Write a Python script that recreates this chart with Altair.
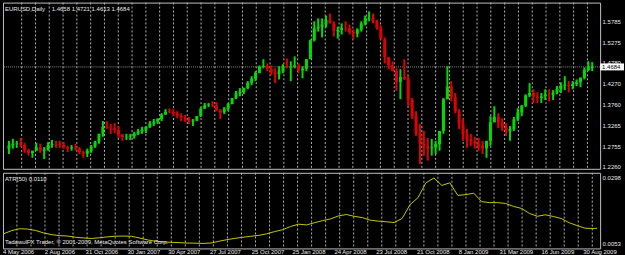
import altair as alt
import pandas as pd

# ---------------- text ----------------
symbol_text = "EURUSD,Daily"
ohlc_text = "1.4658 1.4721 1.4613 1.4684"
atr_title = "ATR(50) 0.0110"
copyright_text = "TadawulFX Trader, © 2001-2009, MetaQuotes Software Corp."

# ---------------- price data (one candle per ~6 trading days) ----------------
opens = [1.270, 1.278, 1.282, 1.283, 1.279, 1.266, 1.259, 1.265, 1.273, 1.265,
         1.268, 1.279, 1.281, 1.280, 1.279, 1.274, 1.271, 1.273, 1.270, 1.261,
         1.258, 1.265, 1.275, 1.287, 1.306, 1.323, 1.321, 1.319, 1.315, 1.304,
         1.298, 1.299, 1.300, 1.306, 1.312, 1.315, 1.323, 1.331, 1.335, 1.342,
         1.353, 1.360, 1.359, 1.355, 1.350, 1.345, 1.341, 1.336, 1.338, 1.349,
         1.367, 1.375, 1.377, 1.375, 1.363, 1.358, 1.367, 1.378, 1.393, 1.404,
         1.408, 1.417, 1.430, 1.440, 1.454, 1.469, 1.471, 1.464, 1.454, 1.451,
         1.459, 1.470, 1.467, 1.469, 1.472, 1.460, 1.464, 1.487, 1.533, 1.562,
         1.566, 1.571, 1.582, 1.574, 1.556, 1.558, 1.563, 1.562, 1.553, 1.549,
         1.559, 1.574, 1.586, 1.588, 1.579, 1.562, 1.535, 1.492, 1.472, 1.458,
         1.432, 1.444, 1.438, 1.388, 1.349, 1.306, 1.282, 1.276, 1.271, 1.273,
         1.281, 1.313, 1.390, 1.420, 1.395, 1.361, 1.329, 1.305, 1.293, 1.288,
         1.282, 1.277, 1.271, 1.289, 1.334, 1.347, 1.334, 1.323, 1.312, 1.318,
         1.341, 1.358, 1.374, 1.399, 1.405, 1.396, 1.393, 1.397, 1.401, 1.400,
         1.406, 1.415, 1.423, 1.425, 1.422, 1.427, 1.431, 1.442, 1.461, 1.4658]
highs = [1.289, 1.294, 1.289, 1.296, 1.284, 1.270, 1.265, 1.284, 1.282, 1.274,
         1.286, 1.291, 1.289, 1.289, 1.286, 1.277, 1.279, 1.282, 1.274, 1.265,
         1.270, 1.279, 1.289, 1.306, 1.337, 1.337, 1.330, 1.332, 1.325, 1.306,
         1.306, 1.306, 1.311, 1.318, 1.323, 1.325, 1.337, 1.342, 1.344, 1.356,
         1.366, 1.368, 1.366, 1.361, 1.356, 1.352, 1.347, 1.342, 1.349, 1.371,
         1.381, 1.381, 1.385, 1.383, 1.366, 1.371, 1.381, 1.393, 1.410, 1.417,
         1.418, 1.434, 1.446, 1.458, 1.472, 1.487, 1.477, 1.472, 1.465, 1.470,
         1.475, 1.489, 1.482, 1.494, 1.477, 1.470, 1.487, 1.535, 1.579, 1.586,
         1.586, 1.593, 1.598, 1.579, 1.566, 1.574, 1.579, 1.571, 1.559, 1.562,
         1.579, 1.593, 1.603, 1.598, 1.583, 1.569, 1.540, 1.492, 1.482, 1.465,
         1.463, 1.487, 1.446, 1.393, 1.361, 1.330, 1.313, 1.296, 1.294, 1.289,
         1.313, 1.393, 1.470, 1.434, 1.405, 1.366, 1.342, 1.318, 1.306, 1.299,
         1.296, 1.289, 1.289, 1.349, 1.373, 1.356, 1.344, 1.332, 1.325, 1.347,
         1.368, 1.376, 1.402, 1.429, 1.414, 1.407, 1.405, 1.414, 1.414, 1.412,
         1.422, 1.431, 1.446, 1.434, 1.434, 1.438, 1.443, 1.467, 1.482, 1.480]
lows = [1.257, 1.270, 1.272, 1.274, 1.260, 1.253, 1.248, 1.265, 1.260, 1.245,
        1.265, 1.272, 1.272, 1.272, 1.270, 1.262, 1.265, 1.265, 1.257, 1.248,
        1.250, 1.260, 1.272, 1.282, 1.299, 1.318, 1.306, 1.308, 1.296, 1.289,
        1.291, 1.291, 1.294, 1.303, 1.306, 1.308, 1.320, 1.325, 1.330, 1.337,
        1.352, 1.356, 1.349, 1.344, 1.337, 1.335, 1.330, 1.325, 1.337, 1.347,
        1.367, 1.371, 1.371, 1.361, 1.342, 1.354, 1.361, 1.378, 1.390, 1.397,
        1.402, 1.414, 1.424, 1.434, 1.453, 1.465, 1.458, 1.448, 1.429, 1.438,
        1.453, 1.465, 1.434, 1.465, 1.453, 1.441, 1.458, 1.487, 1.530, 1.554,
        1.540, 1.564, 1.574, 1.542, 1.537, 1.547, 1.554, 1.547, 1.535, 1.540,
        1.554, 1.569, 1.579, 1.574, 1.559, 1.535, 1.477, 1.463, 1.458, 1.410,
        1.390, 1.438, 1.373, 1.342, 1.301, 1.233, 1.253, 1.241, 1.253, 1.257,
        1.265, 1.306, 1.390, 1.385, 1.356, 1.318, 1.289, 1.272, 1.277, 1.270,
        1.265, 1.257, 1.248, 1.277, 1.334, 1.320, 1.313, 1.301, 1.289, 1.313,
        1.337, 1.349, 1.371, 1.395, 1.381, 1.381, 1.381, 1.388, 1.385, 1.388,
        1.402, 1.405, 1.412, 1.407, 1.414, 1.422, 1.419, 1.438, 1.458, 1.458]
closes = [1.278, 1.282, 1.283, 1.279, 1.266, 1.259, 1.265, 1.273, 1.265, 1.268,
          1.279, 1.281, 1.280, 1.279, 1.274, 1.271, 1.273, 1.270, 1.261, 1.258,
          1.265, 1.275, 1.287, 1.306, 1.323, 1.321, 1.319, 1.315, 1.304, 1.298,
          1.299, 1.300, 1.306, 1.312, 1.315, 1.323, 1.331, 1.335, 1.342, 1.353,
          1.360, 1.359, 1.355, 1.350, 1.345, 1.341, 1.336, 1.338, 1.349, 1.367,
          1.375, 1.377, 1.375, 1.363, 1.358, 1.367, 1.378, 1.393, 1.404, 1.408,
          1.417, 1.430, 1.440, 1.454, 1.469, 1.471, 1.464, 1.454, 1.451, 1.459,
          1.470, 1.467, 1.469, 1.472, 1.460, 1.464, 1.487, 1.533, 1.562, 1.566,
          1.571, 1.582, 1.574, 1.556, 1.558, 1.563, 1.562, 1.553, 1.549, 1.559,
          1.574, 1.586, 1.588, 1.579, 1.562, 1.535, 1.492, 1.472, 1.458, 1.432,
          1.444, 1.438, 1.388, 1.349, 1.306, 1.282, 1.276, 1.271, 1.273, 1.281,
          1.313, 1.390, 1.420, 1.395, 1.361, 1.329, 1.305, 1.293, 1.288, 1.282,
          1.277, 1.271, 1.289, 1.334, 1.347, 1.334, 1.323, 1.312, 1.318, 1.341,
          1.358, 1.374, 1.399, 1.405, 1.396, 1.393, 1.397, 1.401, 1.400, 1.406,
          1.415, 1.423, 1.425, 1.422, 1.427, 1.431, 1.442, 1.461, 1.469, 1.4684]

# ATR(50), one reading every second candle (last one at the final candle)
atr_values = [0.00894, 0.01013, 0.01079, 0.01065, 0.01013, 0.00920, 0.00857, 0.00823, 0.00805, 0.00760,
              0.00734, 0.00716, 0.00742, 0.00775, 0.00801, 0.00805, 0.00797, 0.00734, 0.00664, 0.00612,
              0.00589, 0.00571, 0.00560, 0.00545, 0.00541, 0.00530, 0.00545, 0.00612, 0.00671, 0.00719,
              0.00760, 0.00797, 0.00831, 0.00890, 0.00972, 0.01042, 0.01161, 0.01250, 0.01220, 0.01302,
              0.01380, 0.01443, 0.01555, 0.01610, 0.01540, 0.01495, 0.01399, 0.01362, 0.01339, 0.01310,
              0.01460, 0.01978, 0.02238, 0.02794, 0.02970, 0.02694, 0.02794, 0.02323, 0.02349, 0.02405,
              0.02089, 0.02052, 0.02052, 0.02022, 0.01911, 0.01837, 0.01651, 0.01543, 0.01599, 0.01536,
              0.01458, 0.01302, 0.01194, 0.01098, 0.01087, 0.01100]

last_price = 1.4684
last_price_label = "1.4684"
price_ticks = [1.2260, 1.2755, 1.3265, 1.3760, 1.4270, 1.4780, 1.5275, 1.5785]
atr_ticks = [0.0053, 0.0298]

date_labels = ["4 May 2006", "2 Aug 2006", "31 Oct 2006", "30 Jan 2007", "30 Apr 2007",
               "27 Jul 2007", "25 Oct 2007", "25 Jan 2008", "24 Apr 2008", "23 Jul 2008",
               "21 Oct 2008", "8 Jan 2009", "31 Mar 2009", "16 Jun 2009", "30 Aug 2009"]
date_slots = [-0.25, 10.25, 20.5, 31, 41.25, 51.75, 62.25, 72.5, 83, 93.5,
              103.75, 114.25, 124.5, 135, 145.5]
grid_slots = [3.25, 6.78, 10.3, 13.83, 17.35, 20.88, 24.4, 27.93, 31.45, 34.98,
              38.5, 42.03, 45.55, 49.08, 52.6, 56.13, 59.65, 63.18, 66.7, 70.23,
              73.75, 77.28, 80.8, 84.33, 87.85, 91.38, 94.9, 98.43, 101.95, 105.48,
              109.0, 112.53, 116.05, 119.58, 123.1, 126.63, 130.15, 133.68, 137.2, 140.73,
              144.25, 147.78]

# ---------------- style ----------------
FONT = "Liberation Sans"
BG = "#000000"
FRAME = "#c0c0c0"
GRID = "#b4b4b4"
TXT = "#e8e8e8"
UP = "#00dc00"
DOWN = "#e00000"
W = 600
H_MAIN = 167
H_ATR = 76
FS = 6

n = len(closes)
cdf = pd.DataFrame({"i": list(range(n)), "open": opens, "high": highs,
                    "low": lows, "close": closes})
cdf["dir"] = ["up" if c >= o else "down" for o, c in zip(opens, closes)]

atr_cols = list(range(0, n, 2)) + [n - 1]
adf = pd.DataFrame({"i": atr_cols[:len(atr_values)], "atr": atr_values})
gdf = pd.DataFrame({"g": grid_slots})
ddf = pd.DataFrame({"s": date_slots, "d": date_labels})
ldf = pd.DataFrame({"p": [last_price], "t": [last_price_label]})

xs = alt.Scale(domain=[-0.25, 149.75], nice=False, zero=False)
ys = alt.Scale(domain=[1.2212, 1.6244], nice=False, zero=False)
ya = alt.Scale(domain=[0.00344, 0.03166], nice=False, zero=False)


def right_axis(vals):
    return alt.Axis(orient="right", values=vals, format=".4f", ticks=False,
                    domain=False, grid=False, labelColor=TXT, labelFont=FONT,
                    labelFontSize=FS, labelPadding=2, title=None, zindex=0,
                    labelOverlap=False)


yax = right_axis(price_ticks)
aax = right_axis(atr_ticks)
color = alt.Color("dir:N", scale=alt.Scale(domain=["up", "down"], range=[UP, DOWN]), legend=None)

grid_main = alt.Chart(gdf).mark_rule(color=GRID, strokeDash=[2, 2], strokeWidth=1).encode(
    x=alt.X("g:Q", scale=xs, axis=None))
price_line = alt.Chart(ldf).mark_rule(color="#8c8c8c", strokeDash=[1, 1], strokeWidth=1).encode(
    y=alt.Y("p:Q", scale=ys, axis=yax))
wicks = alt.Chart(cdf).mark_rule(strokeWidth=2).encode(
    x=alt.X("i:Q", scale=xs, axis=None),
    y=alt.Y("low:Q", scale=ys, axis=yax), y2="high:Q", color=color)
bodies = alt.Chart(cdf).mark_bar(size=3).encode(
    x=alt.X("i:Q", scale=xs, axis=None),
    y=alt.Y("open:Q", scale=ys, axis=yax), y2="close:Q", color=color)
sym = alt.Chart(pd.DataFrame({"t": [symbol_text]})).mark_text(
    align="left", baseline="middle", color=TXT, font=FONT, fontSize=FS).encode(
    x=alt.value(2), y=alt.value(6), text="t:N")
ohlc = alt.Chart(pd.DataFrame({"t": [ohlc_text]})).mark_text(
    align="left", baseline="middle", color=TXT, font=FONT, fontSize=FS).encode(
    x=alt.value(49), y=alt.value(6), text="t:N")
box = alt.Chart(ldf).mark_tick(orient="horizontal", size=24, thickness=7,
                               color="#ffffff", opacity=1).encode(
    y=alt.Y("p:Q", scale=ys, axis=yax), x=alt.value(612))
box_text = alt.Chart(ldf).mark_text(align="left", baseline="middle", color="#000000",
                                    font=FONT, fontSize=FS).encode(
    y=alt.Y("p:Q", scale=ys, axis=yax), x=alt.value(602), text="t:N")

main = alt.layer(grid_main, price_line, wicks, bodies, sym, ohlc, box, box_text).properties(
    width=W, height=H_MAIN)

grid_atr = alt.Chart(gdf).mark_rule(color=GRID, strokeDash=[2, 2], strokeWidth=1).encode(
    x=alt.X("g:Q", scale=xs, axis=None))
atr_line = alt.Chart(adf).mark_line(color="#c8c800", strokeWidth=1).encode(
    x=alt.X("i:Q", scale=xs, axis=None),
    y=alt.Y("atr:Q", scale=ya, axis=aax))
atr_lbl = alt.Chart(pd.DataFrame({"t": [atr_title]})).mark_text(
    align="left", baseline="middle", color=TXT, font=FONT, fontSize=FS).encode(
    x=alt.value(2), y=alt.value(6), text="t:N")
copy_lbl = alt.Chart(pd.DataFrame({"t": [copyright_text]})).mark_text(
    align="left", baseline="middle", color=TXT, font=FONT, fontSize=FS).encode(
    x=alt.value(2), y=alt.value(70), text="t:N")
dates = alt.Chart(ddf).mark_text(align="left", baseline="middle", color=TXT,
                                 font=FONT, fontSize=FS).encode(
    x=alt.X("s:Q", scale=xs, axis=None), y=alt.value(H_ATR + 4), text="d:N")

atr_panel = alt.layer(grid_atr, atr_line, atr_lbl, copy_lbl, dates).properties(
    width=W, height=H_ATR)

chart = alt.vconcat(main, atr_panel, spacing=1).properties(
    padding={"left": 1, "top": 1, "right": 0, "bottom": 0},
    background=BG,
).configure_view(stroke=FRAME, strokeWidth=1)

chart.save("out.html", embed_options={"renderer": "svg", "actions": False})
